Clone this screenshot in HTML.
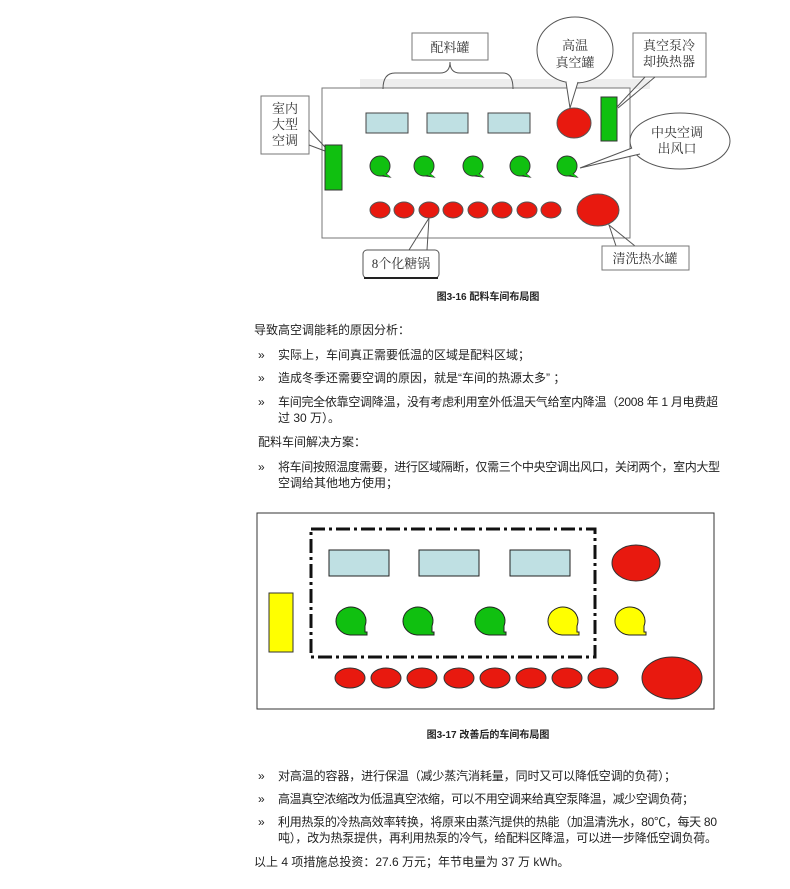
<!DOCTYPE html>
<html><head><meta charset="utf-8"><style>
html,body{margin:0;padding:0;background:#fff;}
svg{display:block;}
text{font-family:"Liberation Sans","Noto Sans CJK SC",sans-serif;fill:#222;}
.t{font-size:12px;}
.cap{font-size:10px;font-weight:bold;}
.lb{font-size:13px;fill:#333;font-family:"Liberation Serif","Noto Serif CJK SC",serif;}
</style></head><body>
<svg width="790" height="889" viewBox="0 0 790 889" xmlns="http://www.w3.org/2000/svg">
<defs>
<g id="gb"><path d="M5,7 L10,11 L2,10 Z" fill="#10c010" stroke="#333"/><circle cx="0" cy="0" r="10" fill="#10c010" stroke="#333"/><path d="M4,8 L9,10.5" stroke="#10c010" stroke-width="2"/></g>
</defs>
<!-- Diagram 1 -->
<rect x="360" y="79" width="290" height="10" fill="#eee"/>
<rect x="322" y="88" width="308" height="150" fill="#fff" stroke="#777" stroke-width="1"/>
<path d="M383,89 Q383,73 395,73 L440,73 Q450,73 450,62 Q450,73 460,73 L503,73 Q513,73 513,89" fill="none" stroke="#555"/>
<rect x="412" y="33" width="76" height="27" fill="#fff" stroke="#777"/>
<text class="lb" x="450" y="52" text-anchor="middle">配料罐</text>
<rect x="366" y="113" width="42" height="20" fill="#bfe0e3" stroke="#444"/>
<rect x="427" y="113" width="41" height="20" fill="#bfe0e3" stroke="#444"/>
<rect x="488" y="113" width="42" height="20" fill="#bfe0e3" stroke="#444"/>
<ellipse cx="574" cy="123" rx="17" ry="15" fill="#e8190f" stroke="#555"/>
<rect x="601" y="97" width="16" height="44" fill="#10c010" stroke="#333"/>
<ellipse cx="575" cy="50" rx="38" ry="33" fill="#fff" stroke="#555"/>
<path d="M566,82 L570,108 L578,82" fill="#fff" stroke="#555"/>
<text class="lb" x="575" y="50" text-anchor="middle">高温</text>
<text class="lb" x="575" y="67" text-anchor="middle">真空罐</text>
<rect x="633" y="33" width="73" height="44" fill="#fff" stroke="#777"/>
<text class="lb" x="669" y="50" text-anchor="middle">真空泵冷</text>
<text class="lb" x="669" y="66" text-anchor="middle">却换热器</text>
<path d="M645,77 L617,107 M655,77 L618,108" stroke="#555"/>
<rect x="261" y="96" width="48" height="58" fill="#fff" stroke="#777"/>
<text class="lb" x="285" y="113" text-anchor="middle">室内</text>
<text class="lb" x="285" y="129" text-anchor="middle">大型</text>
<text class="lb" x="285" y="145" text-anchor="middle">空调</text>
<path d="M309,130 L325,147 M309,145 L325,151" stroke="#555"/>
<rect x="325" y="145" width="17" height="45" fill="#10c010" stroke="#333"/>
<use href="#gb" x="380" y="166"/>
<use href="#gb" x="424" y="166"/>
<use href="#gb" x="473" y="166"/>
<use href="#gb" x="520" y="166"/>
<use href="#gb" x="567" y="166"/>
<ellipse cx="680" cy="141" rx="50" ry="28" fill="#fff" stroke="#555"/>
<path d="M632,148 L580,168 L640,154" fill="#fff" stroke="#555"/>
<text class="lb" x="677" y="137" text-anchor="middle">中央空调</text>
<text class="lb" x="677" y="153" text-anchor="middle">出风口</text>
<g fill="#e8190f" stroke="#555">
<ellipse cx="380" cy="210" rx="10" ry="8"/><ellipse cx="404" cy="210" rx="10" ry="8"/>
<ellipse cx="429" cy="210" rx="10" ry="8"/><ellipse cx="453" cy="210" rx="10" ry="8"/>
<ellipse cx="478" cy="210" rx="10" ry="8"/><ellipse cx="502" cy="210" rx="10" ry="8"/>
<ellipse cx="527" cy="210" rx="10" ry="8"/><ellipse cx="551" cy="210" rx="10" ry="8"/>
<ellipse cx="598" cy="210" rx="21" ry="16"/>
</g>
<path d="M409,250 L429,218 L427,250" fill="none" stroke="#555"/>
<rect x="363" y="250" width="76" height="28" rx="4" fill="#fff" stroke="#555"/>
<line x1="364" y1="278" x2="438" y2="278" stroke="#222" stroke-width="2"/>
<text class="lb" x="401" y="268" text-anchor="middle">8个化糖锅</text>
<path d="M616,246 L609,225 L635,246" fill="none" stroke="#555"/>
<rect x="602" y="246" width="87" height="24" fill="#fff" stroke="#777"/>
<text class="lb" x="645" y="263" text-anchor="middle">清洗热水罐</text>
<text class="cap" x="488" y="300" text-anchor="middle">图3-16 配料车间布局图</text>

<!-- Text block 1 -->
<text class="t" x="254" y="334">导致高空调能耗的原因分析：</text>
<text class="t" x="258" y="359" font-size="9">»</text>
<text class="t" x="278" y="359">实际上，车间真正需要低温的区域是配料区域；</text>
<text class="t" x="258" y="382" font-size="9">»</text>
<text class="t" x="278" y="382">造成冬季还需要空调的原因，就是“车间的热源太多”  ；</text>
<text class="t" x="258" y="406" font-size="9">»</text>
<text class="t" x="278" y="406" textLength="440" lengthAdjust="spacing">车间完全依靠空调降温，没有考虑利用室外低温天气给室内降温（2008 年 1 月电费超</text>
<text class="t" x="278" y="422">过 30 万）。</text>
<text class="t" x="258" y="446">配料车间解决方案：</text>
<text class="t" x="258" y="471" font-size="9">»</text>
<text class="t" x="278" y="471" textLength="442" lengthAdjust="spacing">将车间按照温度需要，进行区域隔断，仅需三个中央空调出风口，关闭两个，室内大型</text>
<text class="t" x="278" y="487">空调给其他地方使用；</text>

<!-- Diagram 2 -->
<rect x="257" y="513" width="457" height="196" fill="#fff" stroke="#333"/>
<rect x="311" y="529" width="284" height="128" fill="none" stroke="#111" stroke-width="3" stroke-dasharray="14,4,3,4"/>
<rect x="329" y="550" width="60" height="26" fill="#bfe0e3" stroke="#222"/>
<rect x="419" y="550" width="60" height="26" fill="#bfe0e3" stroke="#222"/>
<rect x="510" y="550" width="60" height="26" fill="#bfe0e3" stroke="#222"/>
<ellipse cx="636" cy="563" rx="24" ry="18" fill="#e8190f" stroke="#333"/>
<rect x="269" y="593" width="24" height="59" fill="#ffff00" stroke="#333"/>
<g stroke="#222">
<path d="M350,635 A15,14 0 1 1 365,626 L365,632 L367,632 L367,635 Z" fill="#10c010"/>
<path d="M417,635 A15,14 0 1 1 432,626 L432,632 L434,632 L434,635 Z" fill="#10c010"/>
<path d="M489,635 A15,14 0 1 1 504,626 L504,632 L506,632 L506,635 Z" fill="#10c010"/>
<path d="M562,635 A15,14 0 1 1 577,626 L577,632 L579,632 L579,635 Z" fill="#ffff00"/>
<path d="M629,635 A15,14 0 1 1 644,626 L644,632 L646,632 L646,635 Z" fill="#ffff00"/>
</g>
<g fill="#e8190f" stroke="#333">
<ellipse cx="350" cy="678" rx="15" ry="10"/><ellipse cx="386" cy="678" rx="15" ry="10"/>
<ellipse cx="422" cy="678" rx="15" ry="10"/><ellipse cx="459" cy="678" rx="15" ry="10"/>
<ellipse cx="495" cy="678" rx="15" ry="10"/><ellipse cx="531" cy="678" rx="15" ry="10"/>
<ellipse cx="567" cy="678" rx="15" ry="10"/><ellipse cx="603" cy="678" rx="15" ry="10"/>
<ellipse cx="672" cy="678" rx="30" ry="21"/>
</g>
<text class="cap" x="488" y="738" text-anchor="middle">图3-17 改善后的车间布局图</text>

<!-- Text block 2 -->
<text class="t" x="258" y="780" font-size="9">»</text>
<text class="t" x="278" y="780" textLength="398" lengthAdjust="spacing">对高温的容器，进行保温（减少蒸汽消耗量，同时又可以降低空调的负荷）；</text>
<text class="t" x="258" y="803" font-size="9">»</text>
<text class="t" x="278" y="803" textLength="416" lengthAdjust="spacing">高温真空浓缩改为低温真空浓缩，可以不用空调来给真空泵降温，减少空调负荷；</text>
<text class="t" x="258" y="826" font-size="9">»</text>
<text class="t" x="278" y="826" textLength="439" lengthAdjust="spacing">利用热泵的冷热高效率转换，将原来由蒸汽提供的热能（加温清洗水，80℃，每天 80</text>
<text class="t" x="278" y="842" textLength="439" lengthAdjust="spacing">吨），改为热泵提供，再利用热泵的冷气，给配料区降温，可以进一步降低空调负荷。</text>
<text class="t" x="254" y="866">以上 4 项措施总投资：27.6 万元；年节电量为 37 万 kWh。</text>
</svg>
</body></html>
